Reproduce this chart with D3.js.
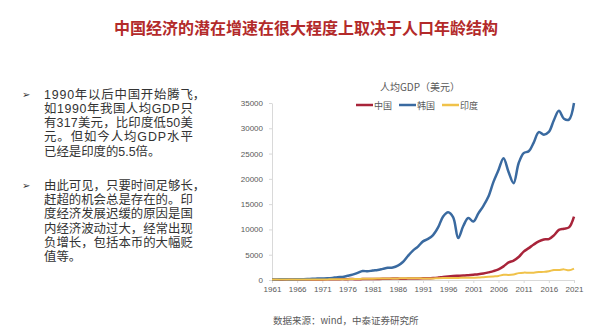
<!DOCTYPE html>
<html>
<head>
<meta charset="utf-8">
<script src="https://cdn.jsdelivr.net/npm/d3@7"></script>
<style>
  html, body { margin: 0; padding: 0; background: #fff; }
  svg { display: block; }
</style>
</head>
<body>
<svg id="slide" width="613" height="329"></svg>
<script>
// Per-capita GDP (current US$), 1961–2021
const years = d3.range(1961, 2022);
const seriesNames = ["中国", "韩国", "印度"];
const chinaGDP = [76, 71, 74, 85, 98, 104, 97, 91, 100, 113, 119, 132, 157, 160, 178, 165, 185, 156, 184, 195,
  197, 203, 225, 251, 294, 282, 252, 284, 311, 317, 333, 366, 377, 473, 610, 709, 782, 829, 873, 959,
  1053, 1149, 1289, 1509, 1753, 2099, 2694, 3468, 3832, 4550, 5614, 6301, 7020, 7636, 8016, 8094, 8817, 9905, 10144, 10409, 12556];
const koreaGDP = [94, 106, 146, 124, 109, 133, 161, 198, 243, 279, 301, 324, 407, 563, 616, 830, 1055, 1405, 1783, 1715,
  1883, 1993, 2199, 2413, 2482, 2835, 3555, 4749, 5817, 6610, 7637, 8127, 8885, 10385, 12565, 13403, 12398, 8282, 10672, 12263,
  11563, 13165, 14673, 16497, 19403, 21743, 24086, 21350, 19144, 23087, 25100, 25459, 27180, 29253, 28737, 29274, 31601, 33447, 31902, 31721, 34998];
const indiaGDP = [86, 90, 101, 116, 119, 90, 96, 99, 107, 112, 119, 123, 144, 163, 158, 161, 186, 206, 224, 267,
  270, 274, 291, 277, 297, 310, 340, 354, 347, 367, 303, 317, 301, 346, 374, 400, 415, 413, 442, 443,
  452, 471, 546, 628, 715, 807, 1028, 999, 1102, 1358, 1458, 1444, 1450, 1574, 1606, 1733, 1981, 1997, 2101, 1914, 2257];
const yTicks = [0, 5000, 10000, 15000, 20000, 25000, 30000, 35000];
const xTicks = d3.range(1961, 2022, 5);

const titleText = "中国经济的潜在增速在很大程度上取决于人口年龄结构";
const chartTitle = "人均GDP（美元）";
const sourceText = "数据来源：wind，中泰证券研究所";
const bullet1 = ["1990年以后中国开始腾飞，", "如1990年我国人均GDP只", "有317美元，比印度低50美", "元。但如今人均GDP水平", "已经是印度的5.5倍。"];
const bullet2 = ["由此可见，只要时间足够长，", "赶超的机会总是存在的。印", "度经济发展迟缓的原因是国", "内经济波动过大，经常出现", "负增长，包括本币的大幅贬", "值等。"];

const colors = ["#a8243a", "#3a6aa0", "#f0c24a"];
const seriesValues = [chinaGDP, koreaGDP, indiaGDP];

const svg = d3.select("#slide");
const cjk = "'Noto Sans CJK SC', 'Noto Sans', sans-serif";
const bodyFont = "'Liberation Sans', 'Noto Sans CJK SC', sans-serif";

// Slide heading
svg.append("text")
  .attr("x", 306).attr("y", 34)
  .attr("text-anchor", "middle")
  .attr("font-family", cjk)
  .attr("font-size", 16).attr("font-weight", "bold")
  .attr("fill", "#b32a2a")
  .text(titleText);

// Bullet paragraphs: justified text box, trailing comma hangs past the edge
const boxLeft = 44, boxWidth = 148.8, bodySize = 12.4;
function paragraph(lines, y0, step) {
  svg.append("text")
    .attr("x", 22).attr("y", y0 - 0.5)
    .attr("font-family", "'DejaVu Sans', sans-serif")
    .attr("font-size", 10)
    .attr("fill", "#333")
    .text("➢");
  lines.forEach((s, i) => {
    const yy = y0 + i * step;
    const last = i === lines.length - 1;
    const hang = s.endsWith("，");
    const body = hang ? s.slice(0, -1) : s;
    const t = svg.append("text")
      .attr("x", boxLeft).attr("y", yy)
      .attr("font-family", bodyFont)
      .attr("font-size", bodySize)
      .attr("fill", "#333")
      .text(body);
    if (!last) t.attr("textLength", boxWidth).attr("lengthAdjust", "spacing");
    if (hang) {
      svg.append("text")
        .attr("x", boxLeft + boxWidth).attr("y", yy)
        .attr("font-family", bodyFont)
        .attr("font-size", bodySize)
        .attr("fill", "#333")
        .text("，");
    }
  });
}
paragraph(bullet1, 98.7, 14.2);
paragraph(bullet2, 189.7, 14.3);

// Chart
const x = d3.scaleLinear().domain([1961, 2021]).range([272, 574]);
const y = d3.scaleLinear().domain([0, 35000]).range([280, 103]);

const yAxis = svg.append("g")
  .attr("transform", "translate(272,0)")
  .call(d3.axisLeft(y).tickValues(yTicks).tickSize(3).tickSizeOuter(0).tickPadding(6).tickFormat(d3.format("d")));
const xAxis = svg.append("g")
  .attr("transform", "translate(0,280)")
  .call(d3.axisBottom(x).tickValues(xTicks).tickSize(3).tickSizeOuter(0).tickPadding(3).tickFormat(d3.format("d")));

[yAxis, xAxis].forEach(g => {
  g.select(".domain").attr("stroke", "#d9d9d9");
  g.selectAll(".tick line").attr("stroke", "#d9d9d9");
  g.selectAll(".tick text")
    .attr("fill", "#595959")
    .attr("font-family", "'Liberation Sans', Arial, sans-serif")
    .attr("font-size", 8);
});

const line = d3.line()
  .x((d, i) => x(years[i]))
  .y(d => y(d))
  .curve(d3.curveCatmullRom.alpha(0.5));

seriesValues.forEach((vals, k) => {
  svg.append("path")
    .datum(vals)
    .attr("fill", "none")
    .attr("stroke", colors[k])
    .attr("stroke-width", k === 2 ? 2 : 2.5)
    .attr("stroke-linejoin", "round")
    .attr("d", line);
});

// Chart title
svg.append("text")
  .attr("x", 420).attr("y", 91)
  .attr("text-anchor", "middle")
  .attr("font-family", cjk)
  .attr("font-size", 10)
  .attr("fill", "#595959")
  .text(chartTitle);

// Legend
const legendX = [356, 399, 442];
seriesNames.forEach((name, k) => {
  svg.append("line")
    .attr("x1", legendX[k]).attr("x2", legendX[k] + 17)
    .attr("y1", 105).attr("y2", 105)
    .attr("stroke", colors[k]).attr("stroke-width", 2.5);
  svg.append("text")
    .attr("x", legendX[k] + 18).attr("y", 108.5)
    .attr("font-family", cjk)
    .attr("font-size", 9)
    .attr("fill", "#595959")
    .text(name);
});

// Source note
svg.append("text")
  .attr("x", 273).attr("y", 324)
  .attr("font-family", "'Noto Sans CJK SC', sans-serif")
  .attr("font-size", 9.5)
  .attr("fill", "#595959")
  .text(sourceText);
</script>
</body>
</html>
